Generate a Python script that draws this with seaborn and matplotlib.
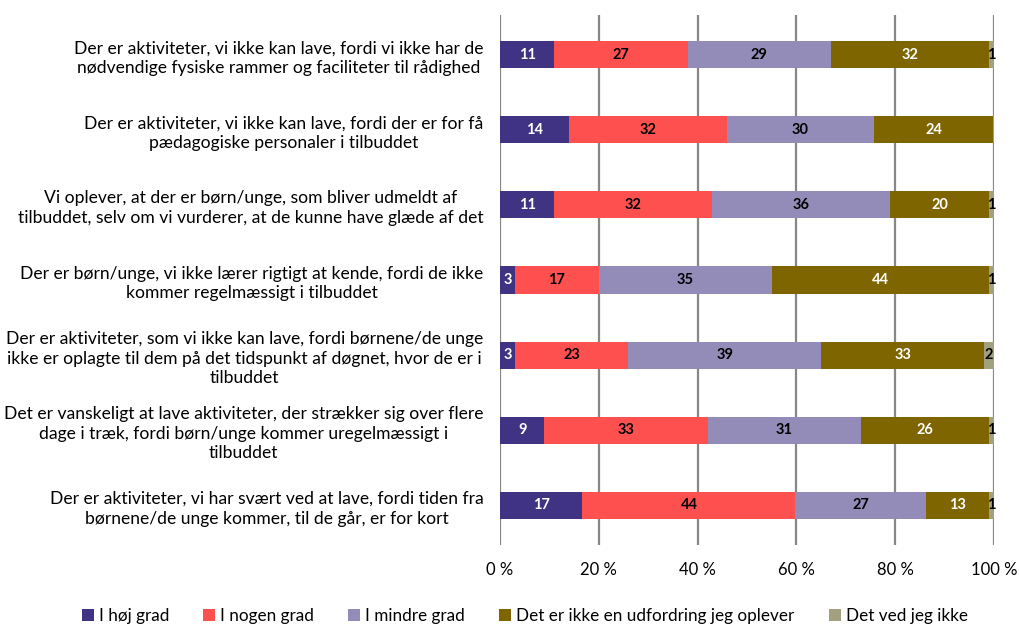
import numpy as np
import pandas as pd
import seaborn as sns
import matplotlib.pyplot as plt
from matplotlib.patches import Patch

questions = [
    "Der er aktiviteter, vi ikke kan lave, fordi vi ikke har de\nnødvendige fysiske rammer og faciliteter til rådighed",
    "Der er aktiviteter, vi ikke kan lave, fordi der er for få\npædagogiske personaler i tilbuddet",
    "Vi oplever, at der er børn/unge, som bliver udmeldt af\ntilbuddet, selv om vi vurderer, at de kunne have glæde af det",
    "Der er børn/unge, vi ikke lærer rigtigt at kende, fordi de ikke\nkommer regelmæssigt i tilbuddet",
    "Der er aktiviteter, som vi ikke kan lave, fordi børnene/de unge\nikke er oplagte til dem på det tidspunkt af døgnet, hvor de er i\ntilbuddet",
    "Det er vanskeligt at lave aktiviteter, der strækker sig over flere\ndage i træk, fordi børn/unge kommer uregelmæssigt i\ntilbuddet",
    "Der er aktiviteter, vi har svært ved at lave, fordi tiden fra\nbørnene/de unge kommer, til de går, er for kort",
]
answers = ["I høj grad", "I nogen grad", "I mindre grad",
           "Det er ikke en udfordring jeg oplever", "Det ved jeg ikke"]

hoj_grad = [11, 14, 11, 3, 3, 9, 17]
nogen_grad = [27, 32, 32, 17, 23, 33, 44]
mindre_grad = [29, 30, 36, 35, 39, 31, 27]
ingen_udfordring = [32, 24, 20, 44, 33, 26, 13]
ved_ikke = [1, 0.3, 1, 1, 2, 1, 1]

colors = ["#403383", "#FF5050", "#948CB8", "#7F6500", "#A3A07F"]
text_colors = ["white", "black", "black", "white", "black"]

plt.rcParams['font.family'] = ['Lato', 'DejaVu Sans']

values = np.array([hoj_grad, nogen_grad, mindre_grad, ingen_udfordring, ved_ikke], dtype=float)
shares = values / values.sum(axis=0) * 100
cum = np.cumsum(shares, axis=0)

fig = plt.figure(figsize=(10.19, 6.26), dpi=100)
ax = fig.add_axes([0.4907, 0.1294, 0.4848, 0.8466])

# draw cumulative totals from right to left so each layer covers the next
for i in range(len(answers) - 1, -1, -1):
    df = pd.DataFrame({'q': questions, 'v': cum[i]})
    sns.barplot(data=df, x='v', y='q', color=colors[i], width=0.36,
                orient='h', saturation=1, ax=ax, zorder=3)

for i in range(len(answers)):
    for j in range(len(questions)):
        if values[i, j] < 0.5:
            continue
        mid = cum[i, j] - shares[i, j] / 2
        ax.text(mid, j, f"{values[i, j]:.0f}", ha='center', va='center',
                fontsize=10.5, fontweight='bold', color=text_colors[i], zorder=4)

ax.set_xlim(0, 100)
ax.set_ylim(6.53, -0.53)
ax.set_xticks([0, 20, 40, 60, 80, 100])
ax.set_xticklabels(["0 %", "20 %", "40 %", "60 %", "80 %", "100 %"])
ax.grid(axis='x', color='#878787', linewidth=1.6, zorder=0)
ax.set_axisbelow(True)
for s in ax.spines.values():
    s.set_visible(False)
ax.tick_params(axis='x', length=0, labelsize=12, pad=12)
ax.tick_params(axis='y', length=0, labelsize=12.6, pad=12)
for lbl in ax.get_yticklabels():
    lbl.set_multialignment('center')
    lbl.set_linespacing(1.3)
ax.set_xlabel('')
ax.set_ylabel('')

handles = [Patch(facecolor=c, label=a) for c, a in zip(colors, answers)]
fig.legend(handles=handles, loc='lower center', bbox_to_anchor=(0.515, -0.022),
           ncol=5, frameon=False, fontsize=12.3, handlelength=0.7, handleheight=0.7,
           handletextpad=0.3, columnspacing=2.0)

fig.savefig('out.png', dpi=100)
